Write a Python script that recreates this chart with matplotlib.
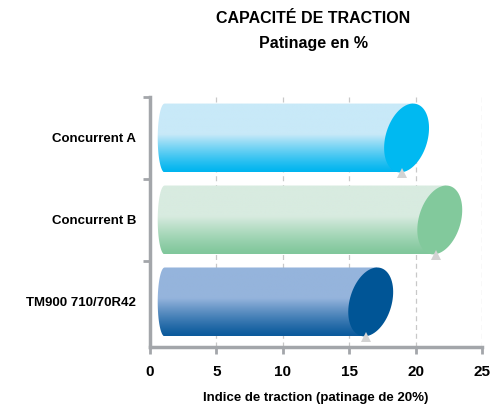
import numpy as np
import matplotlib
matplotlib.use("Agg")
import matplotlib.pyplot as plt
from matplotlib.patches import Polygon
from matplotlib.colors import to_rgb

categories = ["TM900 710/70R42", "Concurrent B", "Concurrent A"]
values = [16.3, 21.5, 19.0]
light_colors = ["#95b4dc", "#d8ebe0", "#c8e9f8"]
dark_colors = ["#0b5a9c", "#80c79b", "#00b5ef"]
cap_colors = ["#005596", "#82c99c", "#00b9f1"]
xticks = [0, 5, 10, 15, 20, 25]

plt.rcParams["font.family"] = ["Liberation Sans", "DejaVu Sans"]

fig = plt.figure(figsize=(4.9, 4.05), dpi=100)
ax = fig.add_axes([150 / 490, 58 / 405, 332 / 490, 250 / 405])
ax.set_xlim(0, 25)
ax.set_ylim(-0.05, 3)

px = 332 / 25  # pixels per x unit
h = 0.84
shear = 6.5 / px
cap_a = 21.5 / px
left_x = 1.1
left_r = 0.52

for i, (v, lc, dc, cc) in enumerate(zip(values, light_colors, dark_colors, cap_colors)):
    yc = i + 0.5
    y0, y1 = yc - h / 2, yc + h / 2
    cx = v + 0.32
    # body outline: rounded left end, slanted right end
    t = np.linspace(np.pi / 2, 3 * np.pi / 2, 30)
    left = np.column_stack([left_x + left_r * np.cos(t), yc + h / 2 * np.sin(t)])
    verts = np.vstack([left, [[cx - shear, y0], [cx + shear, y1], [left_x, y1]]])
    body = Polygon(verts, closed=True, facecolor="none", edgecolor="none")
    ax.add_patch(body)
    # vertical gradient
    n = 100
    fr = np.linspace(0, 1, n)  # 0 bottom -> 1 top
    w = np.clip(fr / 0.55, 0, 1) ** 1.2
    c_l, c_d = np.array(to_rgb(lc)), np.array(to_rgb(dc))
    img = (c_d[None, :] * (1 - w[:, None]) + c_l[None, :] * w[:, None])[:, None, :]
    im = ax.imshow(img, extent=[0, cx + 1, y0, y1], origin="lower",
                   aspect="auto", zorder=2, interpolation="bilinear")
    im.set_clip_path(body)
    # end cap (sheared ellipse)
    tt = np.linspace(0, 2 * np.pi, 80)
    cap = np.column_stack([cx + cap_a * np.cos(tt) + shear * np.sin(tt),
                           yc + h / 2 * np.sin(tt)])
    ax.add_patch(Polygon(cap, closed=True, facecolor=cc, edgecolor="none", zorder=3))
    # value marker
    ax.plot(v, y0 - 0.01, marker="^", color="#d3d3d3", markersize=7,
            markeredgewidth=0, zorder=4)

ax.set_xlim(0, 25)
ax.set_ylim(-0.05, 3)

for x in xticks[1:]:
    ax.axvline(x, color="#c8c8c8", lw=0.9, ls=(0, (4, 3)), zorder=1)

for s in ["top", "right"]:
    ax.spines[s].set_visible(False)
for s in ["left", "bottom"]:
    ax.spines[s].set_color("#a3a6aa")
    ax.spines[s].set_linewidth(2.5)

ax.set_xticks(xticks)
ax.set_xticklabels([str(x) for x in xticks], fontsize=11, fontweight="bold")
ax.tick_params(axis="x", length=5, width=2, color="#a3a6aa", pad=8)

ax.set_yticks([0.5, 1.5, 2.5])
ax.set_yticklabels(categories, fontsize=9.5, fontweight="bold")
ax.set_yticks([1, 2, 3], minor=True)
ax.tick_params(axis="y", which="major", length=0, pad=10)
ax.tick_params(axis="y", which="minor", length=5, width=2, color="#a3a6aa")

ax.set_xlabel("Indice de traction (patinage de 20%)", fontsize=9.5,
              fontweight="bold", labelpad=9)

fig.text(0.639, 0.955, "CAPACITÉ DE TRACTION", ha="center", va="center",
         fontsize=11.5, fontweight="bold")
fig.text(0.639, 0.893, "Patinage en %", ha="center", va="center",
         fontsize=11.5, fontweight="bold")

fig.savefig("out.png", dpi=100)
